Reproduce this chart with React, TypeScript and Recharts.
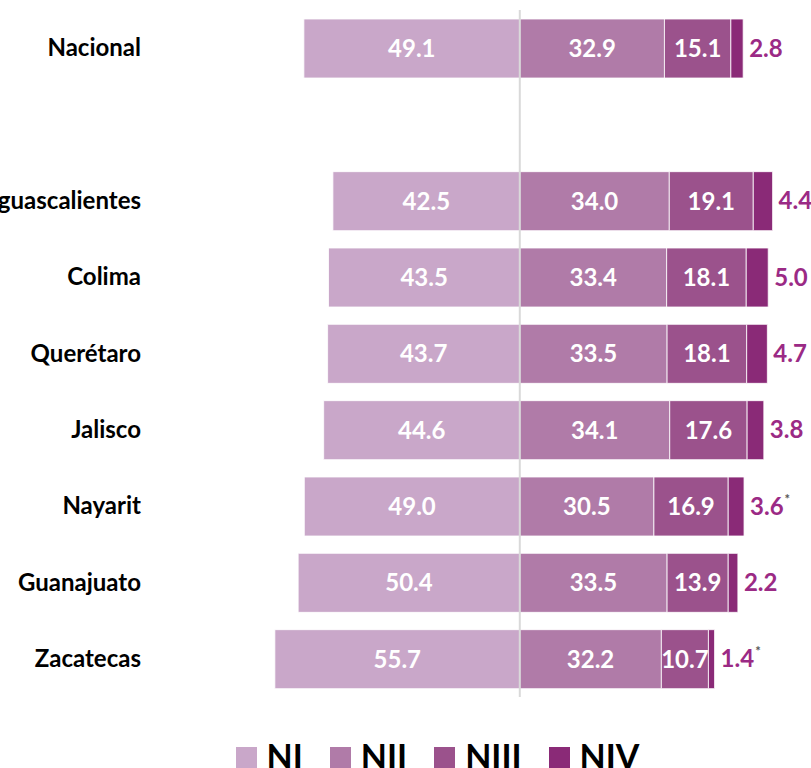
import { BarChart, Bar, XAxis, YAxis, LabelList, ReferenceLine } from 'recharts';

const states = ['Nacional', '', 'Aguascalientes', 'Colima', 'Querétaro', 'Jalisco', 'Nayarit', 'Guanajuato', 'Zacatecas'];
const nI = [49.1, null, 42.5, 43.5, 43.7, 44.6, 49.0, 50.4, 55.7];
const nII = [32.9, null, 34.0, 33.4, 33.5, 34.1, 30.5, 33.5, 32.2];
const nIII = [15.1, null, 19.1, 18.1, 18.1, 17.6, 16.9, 13.9, 10.7];
const nIV = [2.8, null, 4.4, 5.0, 4.7, 3.8, 3.6, 2.2, 1.4];
const nIVMarked = [false, false, false, false, false, false, true, false, true];

const levels = [
  { key: 'NI', color: '#C9A7C9' },
  { key: 'NII', color: '#B07BA8' },
  { key: 'NIII', color: '#9B528C' },
  { key: 'NIV', color: '#8A2A77' },
];

const data = states.map((name, i) => ({
  name,
  NI: nI[i] == null ? null : -(nI[i] as number),
  NII: nII[i],
  NIII: nIII[i],
  NIV: nIV[i],
  nivText: nIV[i] == null ? null : (nIV[i] as number).toFixed(1) + (nIVMarked[i] ? '*' : ''),
}));

const FONT = 'Lato, "Open Sans", sans-serif';
const FS = 24;

const fmt = (v: any) => (v == null ? '' : Math.abs(Number(v)).toFixed(1));

const StateTick = (props: any) => {
  const { x, y, payload } = props;
  return (
    <text x={x} y={y} dx={-19} dy={8} textAnchor="end" fontFamily={FONT} fontWeight={700} fontSize={FS} fill="#000">
      {payload.value}
    </text>
  );
};

// NIV values sit outside the bar, with a small mark for the flagged states
const NivLabel = (props: any) => {
  const { x, y, width, height, value } = props;
  if (value == null) return null;
  const s = String(value);
  const marked = s.endsWith('*');
  return (
    <text x={x + width + 6} y={y + height / 2} dy={8} fontFamily={FONT} fontWeight={700} fontSize={FS} fill="#9B2A85">
      {marked ? s.slice(0, -1) : s}
      {marked ? (
        <tspan fontSize={13} dx={1} dy={-11} fill="#555">*</tspan>
      ) : null}
    </text>
  );
};

export default function App() {
  return (
    <div style={{ position: 'absolute', left: 0, top: 0, width: 811, height: 768, overflow: 'hidden', background: '#fff' }}>
      <BarChart
        width={811}
        height={700}
        data={data}
        layout="vertical"
        stackOffset="sign"
        barSize={59}
        margin={{ top: 10, right: 1, bottom: 3, left: 0 }}
      >
        <XAxis type="number" domain={[-80, 66]} hide />
        <YAxis type="category" dataKey="name" width={168} axisLine={false} tickLine={false} tick={<StateTick />} interval={0} />
        {levels.map((l) => (
          <Bar key={l.key} dataKey={l.key} stackId="a" fill={l.color} stroke="#fff" strokeWidth={0.8} isAnimationActive={false}>
            {l.key === 'NIV' ? (
              <LabelList dataKey="nivText" content={<NivLabel />} />
            ) : (
              <LabelList
                dataKey={l.key}
                position="center"
                formatter={fmt}
                fill="#fff"
                fontFamily={FONT}
                fontWeight={700}
                fontSize={FS}
              />
            )}
          </Bar>
        ))}
        <ReferenceLine x={0} stroke="#D9D9D9" strokeWidth={2} />
      </BarChart>
      <div
        style={{
          position: 'absolute',
          top: 736,
          left: 0,
          width: 811,
          display: 'flex',
          justifyContent: 'center',
          alignItems: 'flex-start',
          gap: 27,
          fontFamily: FONT,
          fontWeight: 700,
          fontSize: 34,
          lineHeight: '40px',
          color: '#000',
          paddingLeft: 64,
          boxSizing: 'border-box',
        }}
      >
        {levels.map((l) => (
          <div key={l.key} style={{ display: 'flex', alignItems: 'flex-start' }}>
            <span style={{ width: 21, height: 21, background: l.color, marginTop: 11, marginRight: 10, display: 'inline-block' }} />
            <span>{l.key}</span>
          </div>
        ))}
      </div>
    </div>
  );
}
